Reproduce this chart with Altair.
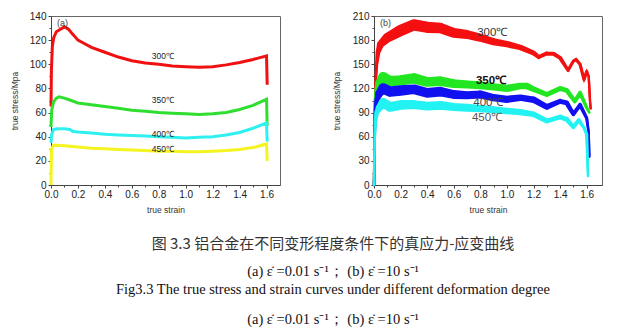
import altair as alt
import pandas as pd

# ---------------- panel (a): strain rate 0.01 s^-1 ----------------
a300_strain = [0.0, 0.003, 0.01, 0.02, 0.04, 0.07, 0.1, 0.13, 0.16, 0.2, 0.25, 0.3, 0.4, 0.5, 0.6, 0.7, 0.8, 0.9, 1.0, 1.1, 1.2, 1.3, 1.4, 1.5, 1.6, 1.605]
a300_stress = [65, 95, 115, 122, 127, 129, 131, 129, 125, 120, 117, 114, 110, 106, 103, 101, 100, 98.5, 98, 97.5, 98, 99.5, 101.5, 104, 107, 83]

a350_strain = [0.0, 0.005, 0.02, 0.04, 0.06, 0.1, 0.15, 0.2, 0.3, 0.4, 0.5, 0.6, 0.7, 0.8, 0.9, 1.0, 1.1, 1.2, 1.3, 1.4, 1.5, 1.6, 1.605]
a350_stress = [48, 62, 69, 72, 73, 72, 70, 68, 66.5, 65, 63.5, 62, 61, 60, 59.5, 59, 58.5, 59, 60, 62.5, 66, 71, 49]

a400_strain = [0.0, 0.005, 0.02, 0.05, 0.1, 0.14, 0.16, 0.2, 0.3, 0.4, 0.5, 0.6, 0.7, 0.8, 0.9, 1.0, 1.1, 1.2, 1.3, 1.4, 1.5, 1.6, 1.605]
a400_stress = [35, 42, 46, 46.5, 46.5, 46, 44.5, 44, 43, 42, 41.5, 41, 40.5, 40, 39.5, 39, 39.5, 40, 41.5, 43.5, 47, 51.5, 36]

a450_strain = [0.0, 0.004, 0.02, 0.1, 0.2, 0.3, 0.4, 0.5, 0.6, 0.7, 0.8, 0.9, 1.0, 1.1, 1.2, 1.3, 1.4, 1.5, 1.6, 1.605]
a450_stress = [0, 30, 33, 32.5, 31.5, 30.5, 30, 29.5, 29, 28.5, 28, 28, 27.5, 27.5, 28, 28.5, 29.5, 31, 34, 20]

a_labels = ["300℃", "350℃", "400℃", "450℃"]
a_label_strain = [0.83, 0.83, 0.83, 0.83]
a_label_stress = [107, 70.4, 42.3, 29.8]

# ---------------- panel (b): strain rate 10 s^-1 ----------------
b300_strain = [0, 0.004, 0.01, 0.02, 0.03, 0.05, 0.1, 0.2, 0.3, 0.4, 0.5, 0.6, 0.7, 0.8, 0.9, 1.0, 1.1, 1.2, 1.24, 1.3, 1.35, 1.4, 1.46, 1.5, 1.52, 1.55, 1.58, 1.6, 1.615, 1.625, 1.63]
b300_stress = [0, 80, 120, 150, 165, 175, 183, 192, 199, 196, 195, 189, 187, 183, 178, 175, 171, 164, 159, 163.5, 163, 158, 142.5, 154, 156, 150, 131, 141, 135, 104, 95]
b300_swing = [3, 3, 3, 4, 6, 9, 12, 14, 14, 14, 13, 12, 11, 10, 9, 8, 7, 6, 5, 5, 5, 5, 4, 4, 4, 4, 4, 4, 3, 3, 3]

b350_strain = [0, 0.005, 0.01, 0.02, 0.04, 0.07, 0.12, 0.2, 0.3, 0.4, 0.5, 0.6, 0.7, 0.8, 0.9, 1.0, 1.1, 1.15, 1.2, 1.3, 1.4, 1.45, 1.51, 1.55, 1.6, 1.62]
b350_stress = [0, 70, 100, 118, 127, 134, 129, 130, 132.5, 128, 129, 126, 125, 124, 122, 120, 123, 123, 119, 112.5, 120, 117.5, 104, 114.5, 96, 90]
b350_swing = [3, 3, 4, 6, 10, 13, 13, 13, 13, 12, 12, 11, 10, 10, 9, 9, 8, 8, 7, 6, 6, 6, 5, 5, 4, 3]

b400_strain = [0, 0.005, 0.01, 0.02, 0.04, 0.07, 0.12, 0.2, 0.3, 0.4, 0.5, 0.6, 0.7, 0.8, 0.9, 1.0, 1.1, 1.2, 1.3, 1.4, 1.45, 1.5, 1.55, 1.6, 1.615, 1.62]
b400_stress = [0, 60, 88, 105, 114, 120, 116, 117.5, 119, 114.5, 116, 112.5, 111.5, 112.5, 108.5, 106.5, 108.5, 106, 97, 104, 102, 88, 99.5, 83, 65, 35]
b400_swing = [3, 3, 4, 6, 10, 13, 13, 13, 12, 12, 12, 11, 10, 10, 9, 9, 8, 8, 7, 6, 6, 5, 5, 4, 3, 3]

b450_strain = [0, 0.005, 0.01, 0.02, 0.04, 0.07, 0.12, 0.2, 0.3, 0.4, 0.5, 0.6, 0.7, 0.8, 0.9, 1.0, 1.1, 1.2, 1.3, 1.4, 1.45, 1.5, 1.54, 1.58, 1.6, 1.61]
b450_stress = [0, 55, 78, 90, 96, 102, 97, 99.5, 100, 98, 99, 97, 96, 95, 93.5, 92, 90.5, 88, 79.5, 84.5, 81.5, 72, 80.5, 71, 63, 11]
b450_swing = [3, 3, 4, 6, 9, 12, 12, 12, 11, 11, 11, 10, 10, 9, 9, 8, 8, 7, 6, 6, 6, 5, 5, 4, 4, 3]

b_labels = ["300℃", "350℃", "400℃", "450℃"]
b_label_strain = [0.89, 0.88, 0.86, 0.85]
b_label_stress = [189, 129, 102, 83]

# ---------------- ticks ----------------
strain_ticks = [0.0, 0.1, 0.2, 0.3, 0.4, 0.5, 0.6, 0.7, 0.8, 0.9, 1.0, 1.1, 1.2, 1.3, 1.4, 1.5, 1.6]
a_stress_ticks = [0, 10, 20, 30, 40, 50, 60, 70, 80, 90, 100, 110, 120, 130, 140]
b_stress_ticks = [0, 15, 30, 45, 60, 75, 90, 105, 120, 135, 150, 165, 180, 195, 210]

# ---------------- captions ----------------
caption_lines = [
    "图 3.3 铝合金在不同变形程度条件下的真应力-应变曲线",
    "(a)   ε̇ =0.01 s⁻¹； (b) ε̇ =10 s⁻¹",
    "Fig3.3 The true stress and strain curves under different deformation degree",
    "(a)   ε̇ =0.01 s⁻¹； (b) ε̇ =10 s⁻¹",
]

X_MAJOR = "abs(datum.value*5 - round(datum.value*5)) < 0.01"


def x_axis():
    return alt.Axis(
        title="true strain", values=strain_ticks,
        labelExpr=X_MAJOR + " ? format(datum.value, '.1f') : ''",
        tickSize={"condition": {"test": X_MAJOR, "value": 3}, "value": 2},
        labelFlush=False, labelPadding=1, titlePadding=6, grid=False,
    )


def y_axis(ticks, major, tpad):
    test = "datum.value %% %d == 0" % major
    return alt.Axis(
        title="true stress/Mpa", values=ticks,
        labelExpr=test + " ? format(datum.value, 'd') : ''",
        tickSize={"condition": {"test": test, "value": 3}, "value": 2},
        labelPadding=2, minExtent=22, maxExtent=22, titlePadding=tpad, grid=False,
    )


def panel(series, xdom, ydom, yticks, ymajor, tpad, labels, lab_x, lab_y, lab_styles, tag, banded, w):
    rows = []
    for name, xs, ys, sw, col in series:
        for i, (xv, yv) in enumerate(zip(xs, ys)):
            rows.append({"T": name, "idx": i, "strain": xv, "stress": yv,
                         "swing": (sw[i] if sw else 0)})
    df = pd.DataFrame(rows)
    xe = alt.X("strain:Q", scale=alt.Scale(domain=xdom, nice=False, zero=False), axis=x_axis())
    ye = alt.Y("stress:Q", scale=alt.Scale(domain=ydom, nice=False), axis=y_axis(yticks, ymajor, tpad))
    base = alt.Chart(df).encode(x=xe, y=ye, order="idx:Q")
    layers = []
    for name, xs, ys, sw, col in series:
        sub = base.transform_filter(alt.datum.T == name)
        if banded:
            layers.append(sub.mark_trail(color=col).encode(
                size=alt.Size("swing:Q", scale=alt.Scale(domain=[0, ydom[1]], range=[0, 169]), legend=None)))
            layers.append(sub.mark_line(color=col, strokeWidth=2.2))
        else:
            layers.append(sub.mark_line(color=col, strokeWidth=3))
    for lab, lx, ly, st in zip(labels, lab_x, lab_y, lab_styles):
        tdf = pd.DataFrame({"strain": [lx], "stress": [ly], "label": [lab]})
        layers.append(alt.Chart(tdf).mark_text(font="Liberation Sans", **st).encode(
            x=xe, y=ye, text="label:N"))
    tag_df = pd.DataFrame({"tag": [tag]})
    layers.append(alt.Chart(tag_df).mark_text(font="Liberation Sans", fontSize=9, color="#444",
                                              align="left", baseline="middle").encode(
        x=alt.value(6), y=alt.value(7), text="tag:N"))
    return alt.layer(*layers).properties(width=w, height=169)


small = {"fontSize": 8.5, "color": "#222"}
left = panel(
    [("300", a300_strain, a300_stress, None, "#f01010"),
     ("350", a350_strain, a350_stress, None, "#2fde2f"),
     ("400", a400_strain, a400_stress, None, "#2ff0f0"),
     ("450", a450_strain, a450_stress, None, "#f4f421")],
    [0, 1.7], [0, 140], a_stress_ticks, 20, 9.5,
    a_labels, a_label_strain, a_label_stress, [small, small, small, small], "(a)", False, 229)

right = panel(
    [("300", b300_strain, b300_stress, b300_swing, "#f41010"),
     ("350", b350_strain, b350_stress, b350_swing, "#22e622"),
     ("400", b400_strain, b400_stress, b400_swing, "#1010f0"),
     ("450", b450_strain, b450_stress, b450_swing, "#22f2f2")],
    [0, 1.715], [0, 210], b_stress_ticks, 30, 11,
    b_labels, b_label_strain, b_label_stress,
    [{"fontSize": 11.5, "color": "#333"}, {"fontSize": 11.5, "color": "#111", "fontWeight": "bold"},
     {"fontSize": 11.5, "color": "#444"}, {"fontSize": 11.5, "color": "#555"}],
    "(b)", True, 228)

top = alt.hconcat(left, right, spacing=50)

cap_x = 282
cap_y = [29, 57, 75, 105]
cap_fonts = [("Noto Sans CJK SC", 15, "#333"), ("Liberation Serif", 14.5, "#111"),
             ("Liberation Serif", 14.5, "#111"), ("Liberation Serif", 14.5, "#111")]
cap_layers = []
for line, yy, (fnt, fs, fc) in zip(caption_lines, cap_y, cap_fonts):
    cdf = pd.DataFrame({"text": [line]})
    cap_layers.append(alt.Chart(cdf).mark_text(font=fnt, fontSize=fs, color=fc,
                                               align="center", baseline="middle").encode(
        x=alt.value(cap_x), y=alt.value(yy), text="text:N"))
caption = alt.layer(*cap_layers).properties(width=548, height=114,
                                            view=alt.ViewBackground(stroke="transparent"))

chart = alt.vconcat(top, caption, spacing=0).properties(
    padding={"left": 10, "top": 10, "right": 0, "bottom": 0},
    background="white",
).configure_view(stroke="#666", strokeWidth=1).configure_axis(
    labelFont="Liberation Sans", labelFontSize=10, labelColor="#222",
    titleFont="Liberation Sans", titleFontSize=8.5, titleFontWeight="normal", titleColor="#333",
    domainColor="#444", tickColor="#444",
)

chart.save("out.html", embed_options={"renderer": "svg", "actions": False})
